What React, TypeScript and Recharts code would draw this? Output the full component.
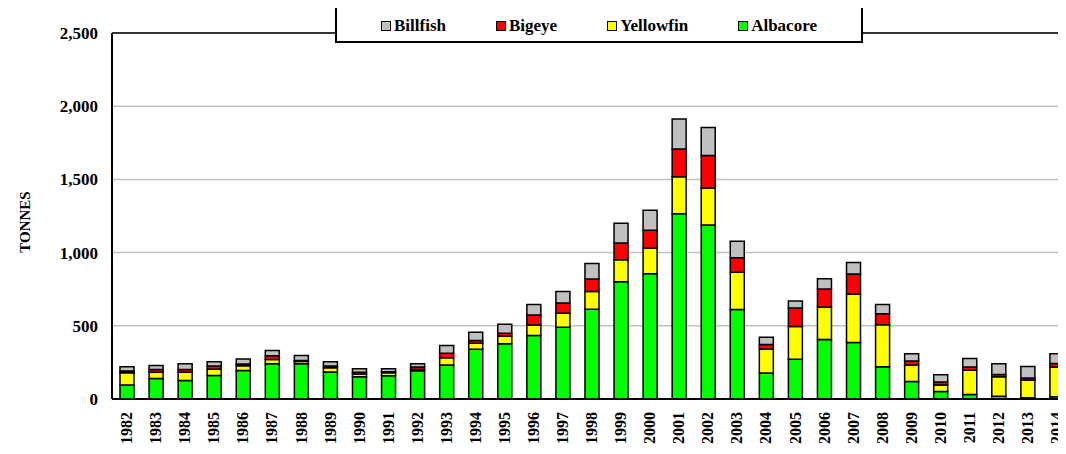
import React from "react";
import {
  BarChart,
  Bar,
  XAxis,
  YAxis,
  CartesianGrid,
  ReferenceLine,
} from "recharts";

const years = [
  "1982", "1983", "1984", "1985", "1986", "1987", "1988", "1989", "1990", "1991", "1992",
  "1993", "1994", "1995", "1996", "1997", "1998", "1999", "2000", "2001", "2002", "2003",
  "2004", "2005", "2006", "2007", "2008", "2009", "2010", "2011", "2012", "2013", "2014",
];

const albacore = [
  95, 140, 127, 161, 195, 241, 241, 184, 152, 159, 193,
  232, 340, 377, 434, 490, 613, 801, 856, 1265, 1188, 611,
  177, 272, 406, 386, 220, 120, 52, 30, 18, 9, 16,
];
const yellowfin = [
  85, 42, 55, 43, 32, 29, 16, 29, 18, 20, 8,
  49, 41, 54, 72, 96, 122, 150, 175, 253, 253, 254,
  164, 223, 223, 331, 288, 112, 43, 167, 134, 120, 202,
];
const bigeye = [
  12, 20, 20, 21, 12, 25, 6, 12, 12, 7, 17,
  32, 19, 18, 68, 70, 85, 114, 122, 190, 222, 100,
  31, 127, 122, 137, 75, 27, 21, 21, 16, 14, 25,
];
const billfish = [
  28, 27, 38, 29, 34, 36, 34, 29, 25, 21, 23,
  52, 56, 62, 71, 79, 106, 136, 136, 204, 192, 113,
  50, 48, 71, 79, 62, 50, 50, 59, 73, 79, 66,
];

const yTicks = [0, 500, 1000, 1500, 2000, 2500];

// stacking order, bottom first
const series = [
  { key: "Albacore", color: "#00ff00" },
  { key: "Yellowfin", color: "#ffff00" },
  { key: "Bigeye", color: "#ff0000" },
  { key: "Billfish", color: "#c0c0c0" },
];

const data = years.map((year, i) => ({
  year,
  Albacore: albacore[i],
  Yellowfin: yellowfin[i],
  Bigeye: bigeye[i],
  Billfish: billfish[i],
}));

const FONT = '"Liberation Serif", "Times New Roman", serif';

const YearTick = (props: any) => {
  const { x, y, payload } = props;
  return (
    <text
      transform={`translate(${x},${y + 5}) rotate(-90)`}
      textAnchor="end"
      dy="0.35em"
      fontFamily={FONT}
      fontWeight="bold"
      fontSize={16}
      fill="#000"
    >
      {payload.value}
    </text>
  );
};

const LegendBox = () => {
  const items = [...series].reverse();
  return (
    <div
      style={{
        position: "absolute",
        left: 335,
        top: 6,
        width: 528,
        height: 37,
        boxSizing: "border-box",
        border: "2px solid #000",
        background: "#fff",
        display: "flex",
        alignItems: "center",
        justifyContent: "center",
        paddingTop: 2,
        gap: 50,
        fontFamily: FONT,
        fontWeight: "bold",
        fontSize: 17,
        color: "#000",
      }}
    >
      {items.map((s) => (
        <div key={s.key} style={{ display: "flex", alignItems: "center" }}>
          <span
            style={{
              display: "inline-block",
              width: 8,
              height: 8,
              border: "1px solid #000",
              background: s.color,
              marginRight: 3,
            }}
          />
          {s.key}
        </div>
      ))}
    </div>
  );
};

export default function App() {
  return (
    <div
      style={{
        margin: -8,
        width: 1066,
        height: 454,
        overflow: "hidden",
        position: "relative",
        background: "#fff",
      }}
    >
      <BarChart
        width={1080}
        height={454}
        data={data}
        margin={{ top: 33, right: 9, left: 0, bottom: 0 }}
        barSize={14}
      >
        <CartesianGrid vertical={false} stroke="#c0c0c0" strokeWidth={1.5} />
        <XAxis
          dataKey="year"
          height={55}
          interval={0}
          tickLine={false}
          axisLine={{ stroke: "#000", strokeWidth: 2 }}
          tick={<YearTick />}
        />
        <YAxis
          width={112}
          domain={[0, 2500]}
          ticks={yTicks}
          tickLine={false}
          tickSize={6}
          tickMargin={8}
          axisLine={{ stroke: "#000", strokeWidth: 2 }}
          tickFormatter={(v: number) => v.toLocaleString("en-US")}
          tick={{ fontFamily: FONT, fontWeight: "bold", fontSize: 17, fill: "#000" }}
          label={{
            content: () => (
              <text
                transform="translate(25,222) rotate(-90)"
                textAnchor="middle"
                dominantBaseline="central"
                fontFamily={FONT}
                fontWeight="bold"
                fontSize={15}
                fill="#000"
              >
                TONNES
              </text>
            ),
          }}
        />
        <ReferenceLine y={2500} stroke="#000" strokeWidth={1.5} />
        {series.map((s) => (
          <Bar
            key={s.key}
            dataKey={s.key}
            stackId="catch"
            fill={s.color}
            stroke="#000"
            strokeWidth={1.5}
            isAnimationActive={false}
          />
        ))}
      </BarChart>
      <LegendBox />
    </div>
  );
}
